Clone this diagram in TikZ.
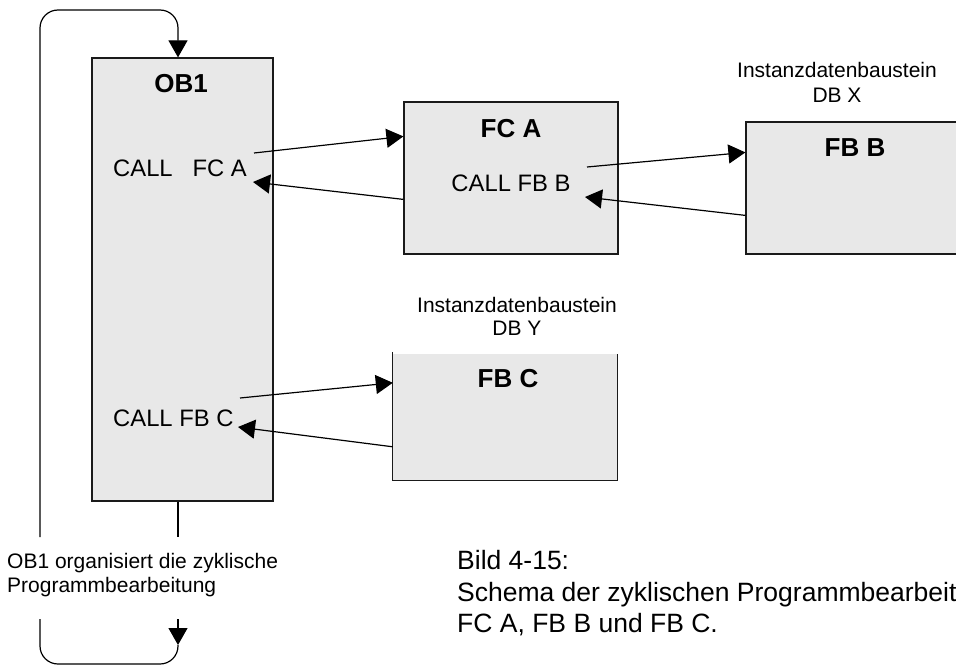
\documentclass[tikz,border=0pt]{standalone}
\usepackage{fontspec}
\setmainfont{Liberation Sans}
\usetikzlibrary{arrows.meta}
\definecolor{boxgray}{HTML}{E8E8E8}
\definecolor{lineblack}{HTML}{1A1A1A}
\begin{document}
\begin{tikzpicture}[x=1pt,y=-1pt,
  boxline/.style={draw=lineblack, line width=1.2pt},
  box/.style={boxline, fill=boxgray, inner sep=0pt},
  conn/.style={draw=black, line width=1.2pt},
  arr/.style={conn, -{Triangle[length=17pt,width=19pt]}},
  lbl/.style={inner sep=0pt, font=\fontsize{23.8}{28}\selectfont},
  title/.style={inner sep=0pt, font=\fontsize{26}{30}\selectfont\bfseries},
  small/.style={inner sep=0pt, font=\fontsize{21}{24}\selectfont},
  caption/.style={inner sep=0pt, font=\fontsize{26.5}{31}\selectfont}]
\clip (0,0) rectangle (956,666);

% boxes
\node[box, minimum width=181pt, minimum height=443pt] (ob1) at (182.5,279.5) {};
\node[box, minimum width=214pt, minimum height=152pt] (fca) at (511,178) {};
\node[box, minimum width=224pt, minimum height=132pt] (fbb) at (858,188) {};
\node[fill=boxgray, inner sep=0pt, minimum width=224pt, minimum height=126pt] (fbc) at (505,417) {};
\draw[boxline] ([yshift=2pt]fbc.north west) -- (fbc.south west) -- (fbc.south east) -- (fbc.north east);

% texts
\node[title, anchor=base] (tob1) at (181,93) {OB1};
\node[lbl, anchor=base west] (cfca) at (113,177) {CALL\ \ \ FC A};
\node[lbl, anchor=base west] (cfbc) at (113,426) {CALL FB C};
\node[title, anchor=base] (tfca) at (511,138) {FC A};
\node[lbl, anchor=base] (cfbb) at (511,192) {CALL FB B};
\node[title, anchor=base] (tfbb) at (855,157) {FB B};
\node[title, anchor=base] (tfbc) at (508,387) {FB C};
\node[small, anchor=base] (idx1) at (837,78) {Instanzdatenbaustein};
\node[small, anchor=base] (idx2) at (837,103) {DB X};
\node[small, anchor=base] (idy1) at (517,312) {Instanzdatenbaustein};
\node[small, anchor=base] (idy2) at (517,335) {DB Y};
\node[small, anchor=base west] (org1) at (7,568) {OB1 organisiert die zyklische};
\node[small, anchor=base west] (org2) at (7,592) {Programmbearbeitung};
\node[caption, anchor=base west] (cap1) at (457,569) {Bild 4-15:};
\node[caption, anchor=base west] (cap2) at (457,601) {Schema der zyklischen Programmbearbeit};
\node[caption, anchor=base west] (cap3) at (457,632) {FC A, FB B und FB C.};

% call arrows
\coordinate (s1) at (254,153);
\coordinate (e2) at (253,182);
\coordinate (s3) at (587,167);
\coordinate (e4) at (585,197);
\coordinate (s5) at (240,398);
\coordinate (e6) at (238,427);
\draw[arr] (s1) -- ([yshift=-35pt]fca.north west);
\draw[arr] ([yshift=-98pt]fca.north west) -- (e2);
\draw[arr] (s3) -- ([yshift=-31pt]fbb.north west);
\draw[arr] ([yshift=-94pt]fbb.north west) -- (e4);
\draw[arr] (s5) -- ([yshift=-29pt]fbc.north west);
\draw[arr] ([yshift=-93pt]fbc.north west) -- (e6);

% cycle loop
\coordinate (loopA) at (40,537);
\coordinate (loopB) at (178,537);
\coordinate (loopC) at (178,619);
\coordinate (loopD) at (178,645);
\coordinate (loopE) at (40,619);
\draw[arr, rounded corners=18pt] (loopA) -- (40,10) -- (178,10) -- ([xshift=-4.5pt]ob1.north);
\draw[conn] ([xshift=-4.5pt]ob1.south) -- (loopB);
\draw[arr] (loopC) -- (loopD);
\draw[conn, rounded corners=18pt] (loopD) -- (178,664) -- (40,664) -- (loopE);
\end{tikzpicture}
\end{document}
